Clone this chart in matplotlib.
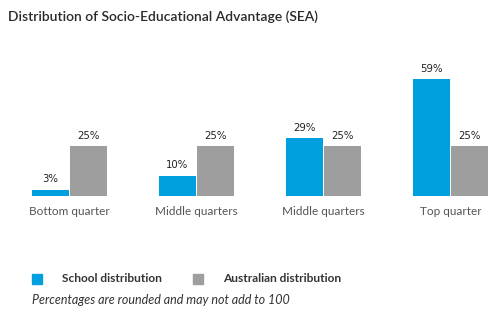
import numpy as np
import matplotlib.pyplot as plt
from matplotlib.patches import Rectangle

# values per SEA quarter
categories = ['Bottom quarter', 'Middle quarters', 'Middle quarters', 'Top quarter']
school = [3, 10, 29, 59]
australia = [25, 25, 25, 25]

blue = '#00a0df'
grey = '#9e9e9e'
W, H = 499, 322

fig = plt.figure(figsize=(W / 100, H / 100), dpi=100)

# axes: baseline at y=195.5px, about 1.97 px per percent
base = 195.5
top = 55
ax = fig.add_axes([0, (H - base) / H, 1, (base - top) / H])
ax.set_ylim(0, (base - top) / 1.97)
step = 127.0
ax.set_xlim(-69.5 / step, (W - 69.5) / step)

x = np.arange(len(categories))
bw = 37 / step
off = 19 / step
b1 = ax.bar(x - off, school, bw, color=blue)
b2 = ax.bar(x + off, australia, bw, color=grey)

for bars, vals in [(b1, school), (b2, australia)]:
    for r, v in zip(bars, vals):
        ax.annotate(f'{v}%', (r.get_x() + r.get_width() / 2, v),
                    xytext=(0, 4), textcoords='offset points',
                    ha='center', va='bottom', fontsize=7.3,
                    family='DejaVu Sans', color='#222222')

ax.set_xticks(x)
ax.set_xticklabels(categories, family='Lato', fontsize=8.5, color='#555555')
ax.tick_params(axis='x', length=0, pad=7.5)
ax.set_yticks([])
for s in ax.spines.values():
    s.set_visible(False)

fig.text(8 / W, 1 - 17 / H, 'Distribution of Socio-Educational Advantage (SEA)',
         family='Lato', fontweight='semibold', fontsize=10, color='#2a2a2a',
         va='center')

# legend
fig.patches.append(Rectangle((32 / W, 1 - 284 / H), 10 / W, 10 / H,
                             transform=fig.transFigure, color=blue))
fig.text(62 / W, 1 - 278 / H, 'School distribution', family='Lato',
         fontweight='bold', fontsize=8.6, color='#333333', va='center')
fig.patches.append(Rectangle((193 / W, 1 - 284 / H), 10 / W, 10 / H,
                             transform=fig.transFigure, color=grey))
fig.text(223 / W, 1 - 278 / H, 'Australian distribution', family='Lato',
         fontweight='bold', fontsize=8.6, color='#333333', va='center')
fig.text(32 / W, 1 - 300 / H, 'Percentages are rounded and may not add to 100',
         family='Lato', style='italic', fontsize=9, color='#333333', va='center')

fig.savefig('out.png', dpi=100)
